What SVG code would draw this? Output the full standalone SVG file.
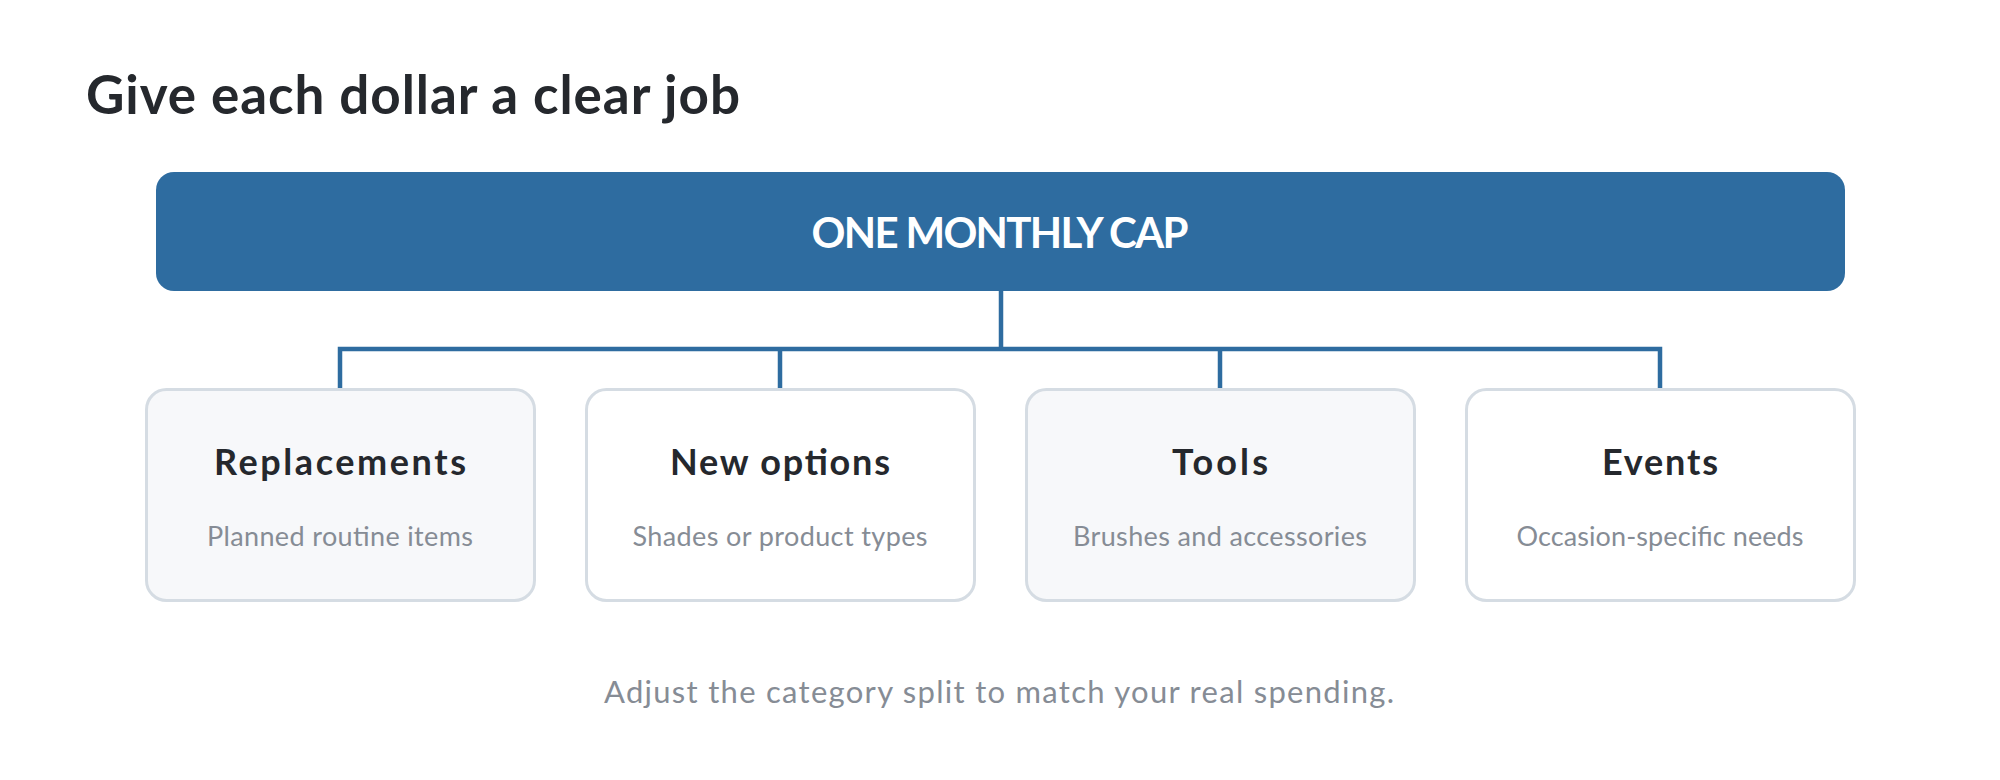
<svg xmlns="http://www.w3.org/2000/svg" width="2000" height="780" viewBox="0 0 2000 780">
<style>
.t{font-family:Lato,"Noto Sans","Liberation Sans",sans-serif;}
.h1{font-weight:700;font-size:53px;fill:#25282D;}
.cap{font-weight:700;font-size:42px;fill:#FFFFFF;}
.ct{font-weight:700;font-size:36px;fill:#25282D;}
.cs{font-weight:400;font-size:27px;fill:#868C95;}
.ft{font-weight:400;font-size:31px;fill:#868C95;}
.card{stroke:#D5DCE3;stroke-width:3;}
.a{fill:#F7F8FA;}
.b{fill:#FFFFFF;}
.con{fill:none;stroke:#2E6CA0;stroke-width:4.5;}
</style>
<rect width="2000" height="780" fill="#FFFFFF"/>
<g id="title">
<text class="t h1" x="86" y="114" textLength="654">Give each dollar a clear job</text>
</g>
<g id="cap">
<rect x="156" y="172" width="1689" height="119" rx="18" fill="#2E6CA0"/>
<text class="t cap" x="1000" y="248" text-anchor="middle" textLength="377">ONE MONTHLY CAP</text>
</g>
<g id="connectors">
<path class="con" d="M1001 291V349M340 388V349H1660V388M780 349V388M1220 349V388"/>
</g>
<g id="replacements">
<rect class="card a" x="146.5" y="389.5" width="388" height="211" rx="20"/>
<text class="t ct" x="340" y="475" text-anchor="middle" textLength="252">Replacements</text>
<text class="t cs" x="340" y="546" text-anchor="middle" textLength="266">Planned routine items</text>
</g>
<g id="new-options">
<rect class="card b" x="586.5" y="389.5" width="388" height="211" rx="20"/>
<text class="t ct" x="780" y="475" text-anchor="middle" textLength="220">New options</text>
<text class="t cs" x="780" y="546" text-anchor="middle" textLength="295">Shades or product types</text>
</g>
<g id="tools">
<rect class="card a" x="1026.5" y="389.5" width="388" height="211" rx="20"/>
<text class="t ct" x="1220" y="475" text-anchor="middle" textLength="96">Tools</text>
<text class="t cs" x="1220" y="546" text-anchor="middle" textLength="294">Brushes and accessories</text>
</g>
<g id="events">
<rect class="card b" x="1466.5" y="389.5" width="388" height="211" rx="20"/>
<text class="t ct" x="1660" y="475" text-anchor="middle" textLength="116">Events</text>
<text class="t cs" x="1660" y="546" text-anchor="middle" textLength="287">Occasion-specific needs</text>
</g>
<g id="footer">
<text class="t ft" x="999" y="703" text-anchor="middle" textLength="790">Adjust the category split to match your real spending.</text>
</g>
</svg>
